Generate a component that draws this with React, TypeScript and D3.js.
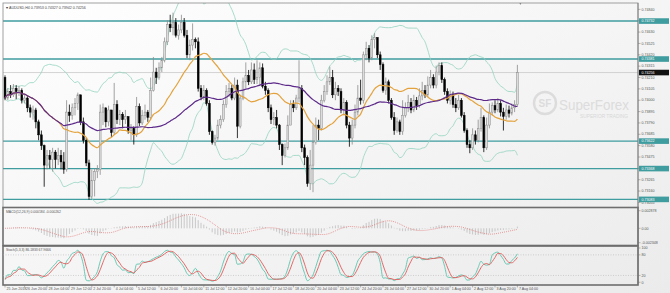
import * as d3 from "d3";

// AUDUSD H4 candles, 25 Jun 16:00 .. 7 Aug 04:00 (open = previous close)
const firstOpen = 0.7421;
const closes = [
  0.7402, 0.7408, 0.7405, 0.7411, 0.7408, 0.7409, 0.74, 0.7402, 0.7393, 0.7389,
  0.7391, 0.738, 0.7368, 0.7358, 0.734, 0.7349, 0.7345, 0.7352, 0.7345, 0.7349,
  0.7343, 0.7336, 0.7389, 0.7386, 0.7393, 0.7397, 0.7405, 0.738, 0.7363, 0.7342,
  0.7311, 0.7326, 0.7334, 0.7336, 0.7389, 0.7393, 0.738, 0.7391, 0.737, 0.7396,
  0.7382, 0.7387, 0.7382, 0.7385, 0.7372, 0.7374, 0.7368, 0.7394, 0.7379, 0.7386,
  0.7389, 0.7384, 0.7409, 0.7426, 0.7421, 0.743, 0.7437, 0.7454, 0.747, 0.7467,
  0.7472, 0.746, 0.7465, 0.7472, 0.746, 0.7442, 0.7451, 0.7456, 0.7454, 0.7411,
  0.7403, 0.7409, 0.7397, 0.7371, 0.7361, 0.7365, 0.7377, 0.7382, 0.7396, 0.7408,
  0.7411, 0.7402, 0.7414, 0.7376, 0.7402, 0.7417, 0.7423, 0.7417, 0.7428, 0.7419,
  0.7421, 0.743, 0.7413, 0.7409, 0.7393, 0.7382, 0.7384, 0.7377, 0.7359, 0.7349,
  0.7356, 0.7377, 0.7396, 0.7393, 0.7402, 0.7411, 0.7356, 0.7347, 0.7323, 0.734,
  0.7361, 0.7377, 0.7374, 0.74, 0.7408, 0.7417, 0.7421, 0.7405, 0.7411, 0.7408,
  0.7391, 0.7398, 0.7377, 0.7365, 0.7377, 0.7389, 0.7402, 0.74, 0.7442, 0.7448,
  0.7439, 0.7456, 0.7458, 0.7442, 0.7433, 0.7409, 0.7417, 0.74, 0.7384, 0.7372,
  0.738, 0.7371, 0.7386, 0.7393, 0.7398, 0.7391, 0.74, 0.7395, 0.7404, 0.7409,
  0.7405, 0.7414, 0.7421, 0.7414, 0.7426, 0.7432, 0.7419, 0.7408, 0.74, 0.7405,
  0.7396, 0.7393, 0.74, 0.7386, 0.7372, 0.7359, 0.7356, 0.7368, 0.7363, 0.7374,
  0.7384, 0.7356, 0.7377, 0.7389, 0.7395, 0.7391, 0.7397, 0.7389, 0.7385, 0.7391,
  0.7388, 0.7393, 0.7396, 0.74256,
];
const highs = [
  0.7423, 0.7411, 0.7414, 0.7415, 0.7414, 0.7413, 0.7411, 0.7405, 0.7404, 0.7396,
  0.7395, 0.7393, 0.7382, 0.7372, 0.7359, 0.7354, 0.7354, 0.7356, 0.7354, 0.7356,
  0.7354, 0.7352, 0.74, 0.7396, 0.7397, 0.7402, 0.7407, 0.7405, 0.7384, 0.7365,
  0.7345, 0.7336, 0.7337, 0.734, 0.7396, 0.7397, 0.7393, 0.7395, 0.7391, 0.7416,
  0.74, 0.7391, 0.7389, 0.7391, 0.7384, 0.7378, 0.7376, 0.7403, 0.7397, 0.7391,
  0.7396, 0.7391, 0.7421, 0.744, 0.743, 0.7435, 0.744, 0.7458, 0.7474, 0.7479,
  0.7481, 0.7476, 0.747, 0.7479, 0.7476, 0.7465, 0.7456, 0.7471, 0.7458, 0.7458,
  0.7414, 0.7414, 0.7411, 0.74, 0.7372, 0.7368, 0.7382, 0.7386, 0.74, 0.7414,
  0.7416, 0.7414, 0.7421, 0.7419, 0.7405, 0.7421, 0.7435, 0.7428, 0.7435, 0.7434,
  0.7437, 0.7435, 0.7434, 0.7417, 0.7411, 0.7396, 0.7389, 0.7391, 0.7378, 0.736,
  0.736, 0.7386, 0.74, 0.74, 0.7405, 0.7437, 0.7414, 0.7359, 0.7349, 0.7354,
  0.7377, 0.7384, 0.7382, 0.7405, 0.7414, 0.7423, 0.7431, 0.7428, 0.7417, 0.7414,
  0.7411, 0.7402, 0.74, 0.738, 0.7382, 0.7396, 0.7414, 0.7419, 0.7445, 0.7454,
  0.7451, 0.746, 0.7462, 0.7458, 0.7445, 0.7435, 0.7421, 0.7419, 0.7402, 0.7389,
  0.7384, 0.7382, 0.74, 0.7398, 0.7405, 0.7402, 0.7405, 0.7403, 0.7411, 0.7417,
  0.7414, 0.7422, 0.7428, 0.7424, 0.7432, 0.7435, 0.7435, 0.7421, 0.7411, 0.7409,
  0.7408, 0.7402, 0.7405, 0.7402, 0.7389, 0.7374, 0.7363, 0.7374, 0.7372, 0.7382,
  0.7393, 0.7386, 0.7384, 0.7397, 0.7398, 0.74, 0.7402, 0.74, 0.7393, 0.7396,
  0.7395, 0.7397, 0.74, 0.74327,
];
const lows = [
  0.74, 0.74, 0.7402, 0.7403, 0.7401, 0.7404, 0.7397, 0.7397, 0.7389, 0.7384,
  0.7382, 0.7374, 0.7363, 0.7354, 0.732, 0.7336, 0.7337, 0.7334, 0.7337, 0.734,
  0.7336, 0.7332, 0.7334, 0.738, 0.7382, 0.7386, 0.7391, 0.7377, 0.736, 0.7339,
  0.7308, 0.7309, 0.7311, 0.7328, 0.7331, 0.7377, 0.7375, 0.7376, 0.7366, 0.7368,
  0.7378, 0.7377, 0.7374, 0.7378, 0.7369, 0.7363, 0.7359, 0.7366, 0.7376, 0.7377,
  0.7382, 0.738, 0.7382, 0.7408, 0.7415, 0.7419, 0.7426, 0.7435, 0.7451, 0.7463,
  0.746, 0.7458, 0.7456, 0.7462, 0.7458, 0.7439, 0.7437, 0.7446, 0.7448, 0.7408,
  0.74, 0.74, 0.7395, 0.7368, 0.7359, 0.7358, 0.7363, 0.7374, 0.738, 0.7393,
  0.7403, 0.74, 0.74, 0.7365, 0.7374, 0.74, 0.7411, 0.7414, 0.7415, 0.7415,
  0.7415, 0.7413, 0.7411, 0.7405, 0.7389, 0.7378, 0.7377, 0.7374, 0.7354, 0.734,
  0.7347, 0.7354, 0.7377, 0.7389, 0.7391, 0.7398, 0.7352, 0.734, 0.732, 0.7317,
  0.7315, 0.7359, 0.7363, 0.7372, 0.7398, 0.7405, 0.7414, 0.7402, 0.74, 0.7404,
  0.7388, 0.7386, 0.7374, 0.7357, 0.7359, 0.7374, 0.7386, 0.7396, 0.7397, 0.7437,
  0.7435, 0.7437, 0.7448, 0.7439, 0.7428, 0.7407, 0.7405, 0.7397, 0.7382, 0.7368,
  0.737, 0.7368, 0.7368, 0.7384, 0.7389, 0.7388, 0.7389, 0.7391, 0.7393, 0.74,
  0.7402, 0.7403, 0.7411, 0.7411, 0.7411, 0.7423, 0.7416, 0.7405, 0.7397, 0.7396,
  0.7393, 0.7389, 0.7391, 0.7384, 0.737, 0.7356, 0.7351, 0.7354, 0.7359, 0.7361,
  0.7371, 0.7352, 0.7354, 0.7374, 0.7386, 0.7388, 0.7389, 0.7385, 0.7372, 0.7382,
  0.7384, 0.7386, 0.7389, 0.73942,
];

const timeLabels = [
  "25 Jun 2018", "26 Jun 20:00", "28 Jun 04:00", "29 Jun 12:00", "2 Jul 20:00", "4 Jul 04:00",
  "5 Jul 12:00", "6 Jul 20:00", "10 Jul 04:00", "11 Jul 12:00", "12 Jul 20:00", "16 Jul 04:00",
  "17 Jul 12:00", "18 Jul 20:00", "20 Jul 04:00", "23 Jul 12:00", "24 Jul 20:00", "26 Jul 04:00",
  "27 Jul 12:00", "30 Jul 20:00", "1 Aug 04:00", "2 Aug 12:00", "3 Aug 20:00", "7 Aug 04:00",
];
const priceTicks = [
  0.7484, 0.74735, 0.7463, 0.74525, 0.7442, 0.74315, 0.7421, 0.74105, 0.74,
  0.73895, 0.7379, 0.73685, 0.7358, 0.73475, 0.7337, 0.73265, 0.7316, 0.73055,
];
const levels = [0.74732, 0.74381, 0.73622, 0.73368, 0.73083];
const lastPrice = 0.74256;
const macdTicks = [0.002878, 0, -0.002348];
const stochTicks = [100, 80, 20, 0];
const title = "AUDUSD,H4  0.73953 0.74327 0.73942 0.74256";
const macdTitle = "MACD(12,26,9) 0.000184 -0.000262";
const stochTitle = "Stoch(5,3,3) 86.1833 67.9666";

const FONT = "'Liberation Sans', Arial, sans-serif";
const L = 3, R = 638;

const sma = (a: number[], p: number) =>
  a.map((_, i) => d3.mean(a.slice(Math.max(0, i - p + 1), i + 1)) as number);
const ema = (a: number[], p: number) => {
  const k = 2 / (p + 1);
  const out: number[] = [];
  a.forEach((v, i) => out.push(i === 0 ? v : v * k + out[i - 1] * (1 - k)));
  return out;
};

export default function App() {
  const n = closes.length;
  const opens = closes.map((_, i) => (i === 0 ? firstOpen : closes[i - 1]));

  const x = d3.scaleLinear().domain([0, n - 1]).range([5, 517.4]);
  const y = d3.scaleLinear().domain([0.73022, 0.74899]).range([206, 3]);
  const yM = d3.scaleLinear().domain([-0.002348, 0.002878]).range([242.7, 210.7]);
  const yS = d3.scaleLinear().domain([0, 100]).range([282.3, 248]);

  // moving averages + bollinger
  const ma20 = sma(closes, 20);
  const ma50 = sma(closes, 50);
  const sd20 = closes.map((_, i) => {
    const w = closes.slice(Math.max(0, i - 19), i + 1);
    const m = d3.mean(w) as number;
    return Math.sqrt(d3.mean(w, (v) => (v - m) * (v - m)) as number);
  });
  const bbUp = ma20.map((m, i) => m + 2 * sd20[i]);
  const bbLo = ma20.map((m, i) => m - 2 * sd20[i]);

  // MACD
  const e12 = ema(closes, 12);
  const e26 = ema(closes, 26);
  const macd = e12.map((v, i) => v - e26[i]);
  const signal = sma(macd, 9);

  // stochastic 5,3,3
  const kLine = closes.map((_, i) => {
    let num = 0, den = 0;
    for (let j = Math.max(0, i - 2); j <= i; j++) {
      const lo = d3.min(lows.slice(Math.max(0, j - 4), j + 1)) as number;
      const hi = d3.max(highs.slice(Math.max(0, j - 4), j + 1)) as number;
      num += closes[j] - lo;
      den += hi - lo;
    }
    return den === 0 ? 50 : (num / den) * 100;
  });
  const dLine = sma(kLine, 3);

  const priceLine = (arr: number[]) =>
    d3.line<number>().x((_, i) => x(i)).y((d) => y(d)).curve(d3.curveMonotoneX)(arr) || "";
  const subLine = (arr: number[], sc: d3.ScaleLinear<number, number>) =>
    d3.line<number>().x((_, i) => x(i)).y((d) => sc(d)).curve(d3.curveMonotoneX)(arr) || "";

  const labelIdx = (k: number) => (k === 0 ? 0 : 8 * k - 1);

  return (
    <div style={{ position: "fixed", left: 0, top: 0 }}>
      <svg width={670} height={293} style={{ display: "block" }} fontFamily={FONT}>
        <defs>
          <linearGradient id="bg" x1="0" y1="0" x2="1" y2="1">
            <stop offset="0" stopColor="#ffffff" />
            <stop offset="1" stopColor="#ebebeb" />
          </linearGradient>
          <clipPath id="mainClip">
            <rect x={L} y={3} width={R - L} height={204} />
          </clipPath>
          <clipPath id="macdClip">
            <rect x={L} y={208.5} width={R - L} height={36} />
          </clipPath>
        </defs>
        <rect x={0} y={0} width={670} height={293} fill="url(#bg)" />

        {/* watermark */}
        <g opacity={0.9}>
          <circle cx={545} cy={103} r={11} fill="none" stroke="#dadada" strokeWidth={2.4} />
          <text x={545} y={107} fontSize={10} textAnchor="middle" fill="#dadada" fontWeight="bold">SF</text>
          <text x={559} y={110} fontSize={15} fill="#dadada" textLength={70} lengthAdjust="spacingAndGlyphs">SuperForex</text>
          <text x={580} y={117.5} fontSize={4.5} fill="#d6d6d6" textLength={48} lengthAdjust="spacingAndGlyphs">SUPERIOR TRADING</text>
        </g>

        {/* main panel */}
        <g clipPath="url(#mainClip)">
          <line x1={L} x2={R} y1={y(lastPrice)} y2={y(lastPrice)} stroke="#c9c9c9" strokeWidth={0.8} />
          {levels.map((lv) => (
            <line key={lv} x1={L} x2={R} y1={y(lv)} y2={y(lv)} stroke="#3f9c9f" strokeWidth={1.4} />
          ))}
          <path d={priceLine(bbUp)} fill="none" stroke="#93d3c0" strokeWidth={0.8} />
          <path d={priceLine(bbLo)} fill="none" stroke="#93d3c0" strokeWidth={0.8} />
          {closes.map((c, i) => {
            const o = opens[i];
            const up = c >= o;
            const top = y(Math.max(o, c));
            const bot = y(Math.min(o, c));
            return (
              <g key={i}>
                <line x1={x(i)} x2={x(i)} y1={y(highs[i])} y2={y(lows[i])} stroke={up ? "#8c8c8c" : "#000"} strokeWidth={0.8} />
                <rect x={x(i) - 0.9} y={top} width={1.8} height={Math.max(0.6, bot - top)}
                  fill={up ? "#dcdcdc" : "#000"} stroke={up ? "#8c8c8c" : "#000"} strokeWidth={0.5} />
              </g>
            );
          })}
          <path d={priceLine(ma20)} fill="none" stroke="#e3a23c" strokeWidth={1.2} />
          <path d={priceLine(ma50)} fill="none" stroke="#5d2a8a" strokeWidth={1.2} />
        </g>
        <rect x={L} y={3} width={R - L} height={204.5} fill="none" stroke="#8a8a8a" strokeWidth={0.8} />
        <path d={`M${x(n - 1) + 4},3 l-2,0 l1,2 z`} fill="#888" />
        <text x={6} y={8.5} fontSize={3.6} fill="#333">▾</text>
        <text x={9} y={8.5} fontSize={3.6} fill="#444">{title}</text>

        {/* MACD panel */}
        <rect x={L} y={207.5} width={R - L} height={38} fill="none" stroke="#6e6e6e" strokeWidth={1.6} />
        <g clipPath="url(#macdClip)">
          {macd.map((v, i) => (
            <line key={i} x1={x(i)} x2={x(i)} y1={yM(0)} y2={yM(v)} stroke="#bdbdbd" strokeWidth={0.8} />
          ))}
          <path d={subLine(signal, yM)} fill="none" stroke="#e06a6a" strokeWidth={0.8} strokeDasharray="0.8,1.2" />
        </g>
        <text x={6} y={212.5} fontSize={3.4} fill="#555">{macdTitle}</text>

        {/* Stochastic panel */}
        <rect x={L} y={246} width={R - L} height={39} fill="none" stroke="#6e6e6e" strokeWidth={1.6} />
        {[80, 20].map((lv) => (
          <line key={lv} x1={L} x2={R} y1={yS(lv)} y2={yS(lv)} stroke="#aaa" strokeWidth={0.5} strokeDasharray="1,1.5" />
        ))}
        <path d={subLine(kLine, yS)} fill="none" stroke="#5cc4ad" strokeWidth={0.9} />
        <path d={subLine(dLine, yS)} fill="none" stroke="#e05a5a" strokeWidth={0.9} />
        <text x={6} y={250.5} fontSize={3.4} fill="#555">{stochTitle}</text>

        {/* right axis */}
        <line x1={R} x2={R} y1={3} y2={285} stroke="#777" strokeWidth={0.8} />
        {priceTicks.map((p) => (
          <g key={p}>
            <line x1={R} x2={R + 2.5} y1={y(p)} y2={y(p)} stroke="#777" strokeWidth={0.5} />
            <text x={R + 3.5} y={y(p) + 1.2} fontSize={3.6} fill="#555">{p.toFixed(5)}</text>
          </g>
        ))}
        {levels.map((lv) => (
          <g key={lv}>
            <rect x={R + 1} y={y(lv) - 2.8} width={30} height={5.6} fill="#3f9c9f" />
            <text x={R + 3.5} y={y(lv) + 1.3} fontSize={3.6} fill="#fff">{lv.toFixed(5)}</text>
          </g>
        ))}
        <rect x={R + 1} y={y(lastPrice) - 2.8} width={30} height={5.6} fill="#111" />
        <text x={R + 3.5} y={y(lastPrice) + 1.3} fontSize={3.6} fill="#fff">{lastPrice.toFixed(5)}</text>

        {macdTicks.map((v) => (
          <g key={v}>
            <line x1={R} x2={R + 2.5} y1={yM(v)} y2={yM(v)} stroke="#777" strokeWidth={0.5} />
            <text x={R + 3.5} y={yM(v) + 1.2} fontSize={3.6} fill="#555">{v === 0 ? "0.00" : v.toFixed(6)}</text>
          </g>
        ))}
        {stochTicks.map((v) => (
          <g key={v}>
            <line x1={R} x2={R + 2.5} y1={yS(v)} y2={yS(v)} stroke="#777" strokeWidth={0.5} />
            <text x={R + 3.5} y={yS(v) + 1.2} fontSize={3.6} fill="#555">{v}</text>
          </g>
        ))}

        {/* time axis */}
        {timeLabels.map((t, k) => {
          const xi = x(labelIdx(k));
          return (
            <g key={t}>
              <line x1={xi} x2={xi} y1={285} y2={287.5} stroke="#777" strokeWidth={0.5} />
              <text x={xi + 1.5} y={290} fontSize={3.6} fill="#555">{t}</text>
            </g>
          );
        })}
      </svg>
    </div>
  );
}
